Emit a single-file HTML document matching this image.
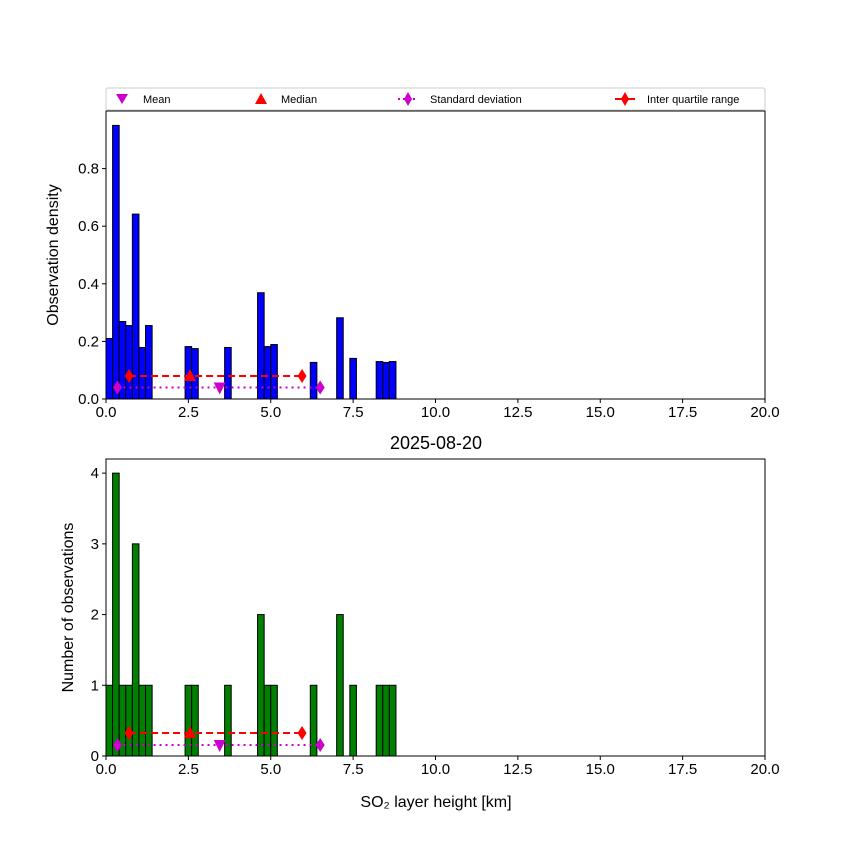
<!DOCTYPE html>
<html><head><meta charset="utf-8"><style>
body{margin:0;background:#fff}
svg text{font-family:"Liberation Sans","DejaVu Sans",sans-serif}
</style></head><body>
<svg id="c" width="850" height="850" xmlns="http://www.w3.org/2000/svg"></svg>
<script>
const binStarts=[0,0.2,0.4,0.6,0.8,1.0,1.2,2.4,2.6,3.6,4.6,4.8,5.0,6.2,7.0,7.4,8.2,8.4,8.6];
const binEnds=[0.2,0.4,0.6,0.8,1.0,1.2,1.4,2.6,2.8,3.8,4.8,5.0,5.2,6.4,7.2,7.6,8.4,8.6,8.8];
const density=[0.21,0.95,0.269,0.255,0.642,0.179,0.255,0.182,0.175,0.179,0.369,0.182,0.189,0.127,0.282,0.141,0.130,0.127,0.130];
const counts=[1,4,1,1,3,1,1,1,1,1,2,1,1,1,2,1,1,1,1];
const stats={mean:3.45,median:2.55,q1:0.7,q3:5.95,sdLo:0.35,sdHi:6.5};
const xTicks=[0,2.5,5,7.5,10,12.5,15,17.5,20];
const yTicksTop=[0,0.2,0.4,0.6,0.8];
const yTicksBot=[0,1,2,3,4];
const NS="http://www.w3.org/2000/svg";
const svg=document.getElementById('c');
function mk(t,a,p){const e=document.createElementNS(NS,t);for(const k in a)e.setAttribute(k,a[k]);(p||svg).appendChild(e);return e;}
const X0=106,X1=765;
const sx=v=>X0+(v/20)*(X1-X0);
function panel(top,bot,ymax,vals,color,ticks,ylabel,dec,mY,sY,name,ylx){
  const sy=v=>bot-(v/ymax)*(bot-top);
  const g=mk('g',{});
  
  
  for(let i=0;i<vals.length;i++){
    const r=mk('rect',{x:sx(binStarts[i]),y:sy(vals[i]),width:sx(binEnds[i])-sx(binStarts[i]),height:bot-sy(vals[i]),fill:color,stroke:'#000','stroke-width':1},g);
    
    
  }
  const l1=mk('line',{x1:sx(stats.q1),x2:sx(stats.q3),y1:sy(mY),y2:sy(mY),stroke:'#f00','stroke-width':2,'stroke-dasharray':'7,4'},g);
  
  const l2=mk('line',{x1:sx(stats.sdLo),x2:sx(stats.sdHi),y1:sy(sY),y2:sy(sY),stroke:'#c0c','stroke-width':2,'stroke-dasharray':'2,4'},g);
  
  const dia=(x,y,c)=>mk('polygon',{points:`${x},${y-7} ${x+4.5},${y} ${x},${y+7} ${x-4.5},${y}`,fill:c},g);
  dia(sx(stats.q1),sy(mY),'#f00');dia(sx(stats.q3),sy(mY),'#f00');
  dia(sx(stats.sdLo),sy(sY),'#c0c');dia(sx(stats.sdHi),sy(sY),'#c0c');
  const mx=sx(stats.median),my=sy(mY);
  mk('polygon',{points:`${mx},${my-7} ${mx+6},${my+5} ${mx-6},${my+5}`,fill:'#f00'},g);
  const ax=sx(stats.mean),ay=sy(sY);
  mk('polygon',{points:`${ax-6},${ay-5} ${ax+6},${ay-5} ${ax},${ay+7}`,fill:'#c0c'},g);
  const fr=mk('rect',{x:X0,y:top,width:X1-X0,height:bot-top,fill:'none',stroke:'#000','stroke-width':1});
  
  xTicks.forEach(t=>{mk('line',{x1:sx(t),x2:sx(t),y1:bot,y2:bot+4,stroke:'#000'});
    mk('text',{x:sx(t),y:bot+18,'font-size':15,'text-anchor':'middle'}).textContent=t.toFixed(1);});
  ticks.forEach(t=>{mk('line',{x1:X0-4,x2:X0,y1:sy(t),y2:sy(t),stroke:'#000'});
    mk('text',{x:X0-7,y:sy(t)+5,'font-size':15,'text-anchor':'end'}).textContent=t.toFixed(dec);});
  const yl=mk('text',{x:0,y:0,'font-size':16,'text-anchor':'middle',transform:`translate(${ylx},${(top+bot)/2}) rotate(-90)`});
  yl.textContent=ylabel;
}
panel(111,399,1.0,density,'#0000ff',yTicksTop,'Observation density',1,0.08,0.04,'density-panel',58);
panel(459,756,4.2,counts,'#008000',yTicksBot,'Number of observations',0,0.325,0.155,'count-panel',73);
const tt=mk('text',{x:436,y:449,'font-size':18,'text-anchor':'middle'});tt.textContent='2025-08-20';

const xl=mk('text',{x:436,y:807,'font-size':16,'text-anchor':'middle'});xl.textContent='SO₂ layer height [km]';

const lg=mk('g',{});

mk('rect',{x:106,y:88,width:659,height:22,fill:'#fff',stroke:'#ccc',rx:2},lg);
mk('polygon',{points:'116,94 128,94 122,104',fill:'#c0c'},lg);
mk('text',{x:143,y:103,'font-size':11},lg).textContent='Mean';
mk('polygon',{points:'261,93 267,104 255,104',fill:'#f00'},lg);
mk('text',{x:281,y:103,'font-size':11},lg).textContent='Median';
mk('line',{x1:398,x2:418,y1:99,y2:99,stroke:'#c0c','stroke-width':2,'stroke-dasharray':'2,3'},lg);
mk('polygon',{points:'408,92 412,99 408,106 404,99',fill:'#c0c'},lg);
mk('text',{x:430,y:103,'font-size':11},lg).textContent='Standard deviation';
mk('line',{x1:615,x2:635,y1:99,y2:99,stroke:'#f00','stroke-width':2},lg);
mk('polygon',{points:'625,92 629,99 625,106 621,99',fill:'#f00'},lg);
mk('text',{x:647,y:103,'font-size':11},lg).textContent='Inter quartile range';
</script>
</body></html>
